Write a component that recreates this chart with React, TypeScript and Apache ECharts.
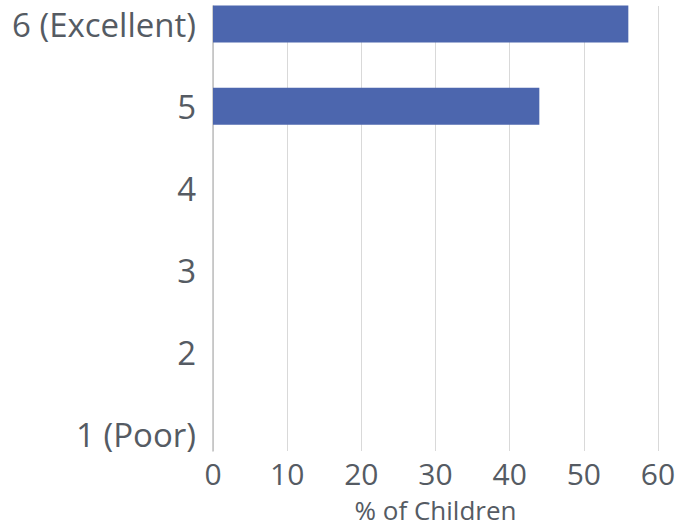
import React, { useEffect, useRef } from "react";
import * as echarts from "echarts";

const categories = ["1 (Poor)", "2", "3", "4", "5", "6 (Excellent)"];
const values = [0, 0, 0, 0, 44, 56];
const xMin = 0;
const xMax = 60;
const xInterval = 10;
const xTitle = "% of Children";

const FONT = "'Open Sans', sans-serif";
const TEXT = "#555b63";

export default function App() {
  const ref = useRef<HTMLDivElement>(null);
  useEffect(() => {
    document.body.style.margin = "0";
    if (!ref.current) return;
    const chart = echarts.init(ref.current, null, { renderer: "svg" });
    chart.setOption({
      animation: false,
      backgroundColor: "#ffffff",
      grid: [
        { left: 213, right: 20, top: -17, height: 493, containLabel: false, outerBoundsMode: "none" },
        { left: 213, right: 20, top: 6, height: 445, containLabel: false, outerBoundsMode: "none" },
      ],
      xAxis: [
        { gridIndex: 0, type: "value", min: xMin, max: xMax, interval: xInterval, show: false },
        {
          gridIndex: 1,
          type: "value",
          min: xMin,
          max: xMax,
          interval: xInterval,
          axisLine: { show: false },
          axisTick: { show: false },
          splitLine: { show: true, lineStyle: { color: "#d9d9d9", width: 1 } },
          axisLabel: {
            color: TEXT,
            fontFamily: FONT,
            fontSize: 30,
            lineHeight: 30,
            margin: 7,
          },
          name: xTitle,
          nameLocation: "middle",
          nameGap: 46,
          nameTextStyle: { color: TEXT, fontFamily: FONT, fontSize: 26, lineHeight: 26 },
        },
      ],
      yAxis: [
        {
          gridIndex: 0,
          type: "category",
          data: categories,
          axisLine: { show: false },
          axisTick: { show: false },
          splitLine: { show: false },
          axisLabel: {
            color: TEXT,
            fontFamily: FONT,
            fontSize: 33,
            margin: 17,
          },
        },
        {
          gridIndex: 1,
          type: "value",
          min: 0,
          max: 1,
          axisLine: { show: true, lineStyle: { color: "#bfbfbf", width: 1.5 } },
          axisTick: { show: false },
          axisLabel: { show: false },
          splitLine: { show: false },
        },
      ],
      series: [
        {
          type: "bar",
          xAxisIndex: 0,
          yAxisIndex: 0,
          data: values,
          barWidth: 37,
          itemStyle: { color: "#4c66ae" },
          z: 3,
        },
      ],
    });
    return () => chart.dispose();
  }, []);
  return <div ref={ref} style={{ width: 678, height: 528 }} />;
}
